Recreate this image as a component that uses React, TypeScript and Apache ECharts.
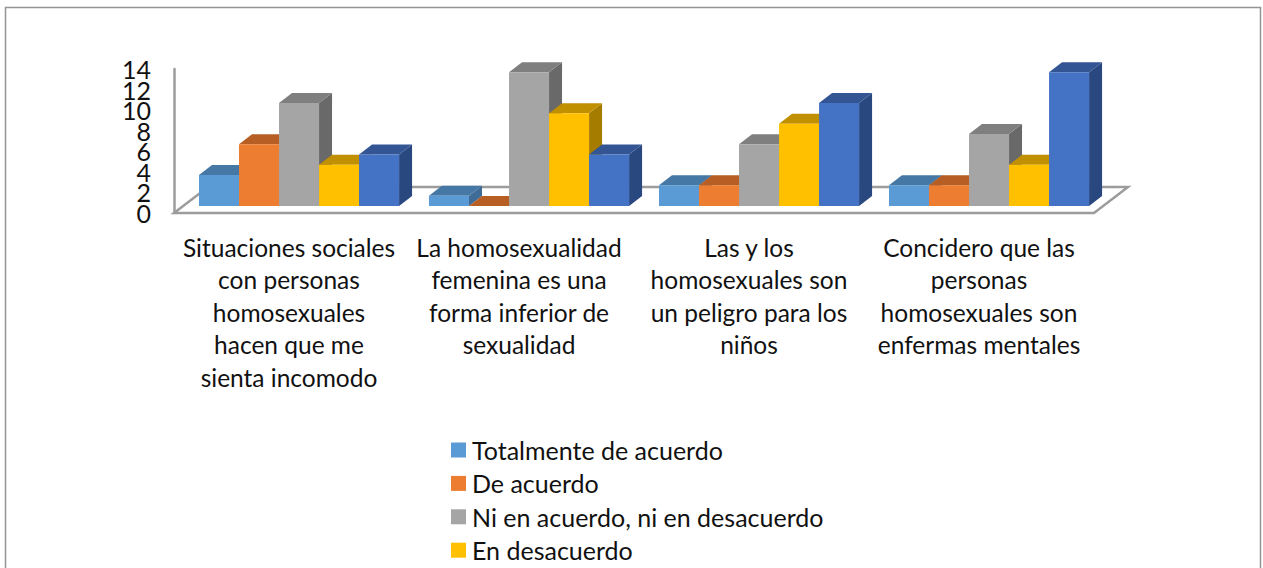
import React, { useEffect, useRef } from "react";
import * as echarts from "echarts";

const categories = [
  "Situaciones sociales\ncon personas\nhomosexuales\nhacen que me\nsienta incomodo",
  "La homosexualidad\nfemenina es una\nforma inferior de\nsexualidad",
  "Las y los\nhomosexuales son\nun peligro para los\nniños",
  "Concidero que las\npersonas\nhomosexuales son\nenfermas mentales",
];
const totalmenteDeAcuerdo = [3, 1, 2, 2];
const deAcuerdo = [6, 0, 2, 2];
const niNi = [10, 13, 6, 7];
const enDesacuerdo = [4, 9, 8, 4];
const totalmenteEnDesacuerdo = [5, 5, 10, 13];
const ticksEven = [0, 4, 8, 12];
const ticksOdd = [2, 6, 10, 14];

const FONT = "Lato";

function bars3d(front: string, top: string, side: string) {
  return (params: any, api: any) => {
    const cat = api.value(0);
    const val = api.value(1);
    const seriesPos = params.seriesIndex - 1;
    const band = api.size([1, 0])[0];
    const w = band * 0.174;
    const cs = params.coordSys;
    const fx = cs.width * 0.0109;
    const fy = cs.height * 0.049;
    const dx = 13;
    const dy = 10;
    const base = api.coord([cat, 0]);
    const tip = api.coord([cat, val]);
    const x0 = base[0] + fx + (seriesPos - 2.5) * w;
    const x1 = x0 + w;
    const yb = base[1] - fy;
    const yt = tip[1] - fy;
    const children: any[] = [];
    if (val > 0) {
      children.push({
        type: "polygon",
        shape: { points: [[x1, yb], [x1 + dx, yb - dy], [x1 + dx, yt - dy], [x1, yt]] },
        style: { fill: side },
      });
    }
    children.push({
      type: "polygon",
      shape: { points: [[x0, yt], [x0 + dx, yt - dy], [x1 + dx, yt - dy], [x1, yt]] },
      style: { fill: top },
    });
    if (val > 0) {
      children.push({
        type: "rect",
        shape: { x: x0, y: yt, width: w, height: yb - yt },
        style: { fill: front },
      });
    }
    return { type: "group", children };
  };
}

function floor(params: any) {
  const cs = params.coordSys;
  const bottom = cs.y + cs.height;
  const right = cs.x + cs.width;
  const dx = 34;
  const dy = 26;
  return {
    type: "polygon",
    shape: {
      points: [
        [cs.x, bottom],
        [cs.x + dx, bottom - dy],
        [right + dx, bottom - dy],
        [right, bottom],
      ],
    },
    style: { fill: "none", stroke: "#9c9c9c", lineWidth: 2.5 },
  };
}

const seriesDefs = [
  { name: "Totalmente de acuerdo", data: totalmenteDeAcuerdo, c: ["#5B9BD5", "#4678A5", "#3E6C96"] },
  { name: "De acuerdo", data: deAcuerdo, c: ["#ED7D31", "#B65E23", "#A5541F"] },
  { name: "Ni en acuerdo, ni en desacuerdo", data: niNi, c: ["#A5A5A5", "#7F7F7F", "#696969"] },
  { name: "En desacuerdo", data: enDesacuerdo, c: ["#FFC000", "#C09000", "#A67C00"] },
  { name: "Totalmente en desacuerdo", data: totalmenteEnDesacuerdo, c: ["#4472C4", "#335594", "#2A4880"] },
];

function yAxisWith(values: number[], showLine: boolean) {
  return {
    type: "value",
    position: "left",
    min: 0,
    max: 14,
    interval: 2,
    axisLine: { show: showLine, onZero: false, lineStyle: { color: "#9c9c9c", width: 2.5 } },
    axisTick: { show: false },
    splitLine: { show: false },
    axisLabel: {
      margin: 23,
      fontFamily: FONT,
      fontSize: 25,
      color: "#111111",
      customValues: values,
      showMinLabel: true,
      showMaxLabel: true,
    },
  };
}

export default function App() {
  const ref = useRef<HTMLDivElement>(null);
  useEffect(() => {
    const chart = echarts.init(ref.current!, null, { renderer: "svg" });
    chart.setOption({
      animation: false,
      backgroundColor: "#ffffff",
      graphic: [
        {
          type: "rect",
          silent: true,
          z: -1,
          shape: { x: 5.5, y: 7.5, width: 1255, height: 600 },
          style: { fill: "#ffffff", stroke: "#959595", lineWidth: 1.5 },
        },
      ],
      grid: { left: 174, top: 69, width: 920, height: 144, containLabel: false },
      xAxis: {
        type: "category",
        data: categories,
        axisLine: { show: false },
        axisTick: { show: false },
        axisLabel: {
          interval: 0,
          margin: 18,
          fontFamily: FONT,
          fontSize: 24.5,
          lineHeight: 32.5,
          color: "#111111",
          align: "center",
          verticalAlign: "top",
        },
      },
      yAxis: [yAxisWith(ticksEven, true), yAxisWith(ticksOdd, false)],
      legend: {
        orient: "vertical",
        left: 446,
        top: 431,
        height: 136,
        icon: "rect",
        itemWidth: 15,
        itemHeight: 15,
        itemGap: 5.4,
        data: seriesDefs.slice(0, 4).map((s) => s.name),
        textStyle: { fontFamily: FONT, fontSize: 25, color: "#111111", lineHeight: 28, padding: [0, 0, 0, 1] },
      },
      series: [
        {
          type: "custom",
          name: "floor",
          silent: true,
          z: 1,
          data: [[0, 0]],
          renderItem: floor,
          encode: { x: 0, y: 1 },
        },
        ...seriesDefs.map((s) => ({
          type: "custom",
          name: s.name,
          z: 2,
          itemStyle: { color: s.c[0] },
          encode: { x: 0, y: 1 },
          data: s.data.map((v, i) => [i, v]),
          renderItem: bars3d(s.c[0], s.c[1], s.c[2]),
        })),
      ],
    });
    return () => chart.dispose();
  }, []);
  return (
    <div style={{ position: "fixed", left: 0, top: 0, width: 1263, height: 568, overflow: "hidden" }}>
      <div ref={ref} style={{ width: 1263, height: 568 }} />
    </div>
  );
}
